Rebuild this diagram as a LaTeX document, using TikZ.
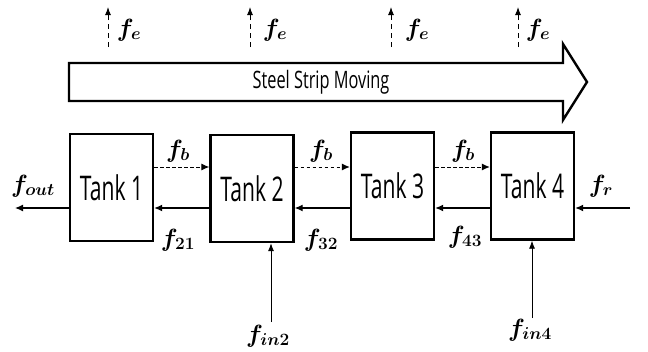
\documentclass[tikz,border=0pt]{standalone}
\usepackage{fontspec}
\usetikzlibrary{arrows.meta}
\newfontfamily\tankfont[FakeStretch=0.62]{Open Sans}
\newfontfamily\stripfont[FakeStretch=0.68]{Open Sans}
\begin{document}
\begin{tikzpicture}[x=1pt,y=-1pt,
  tank/.style={draw,line width=2.4pt,minimum width=83pt,minimum height=107pt,inner sep=0pt,font=\tankfont\fontsize{34}{40}\selectfont},
  flow/.style={line width=1.2pt,-{Latex[length=8pt,width=7pt]}},
  dflow/.style={line width=1pt,dash pattern=on 3.5pt off 2.5pt,-{Latex[length=8pt,width=7pt]}},
  eflow/.style={line width=1pt,dash pattern=on 5pt off 4pt,-{Latex[length=8pt,width=6pt]}},
  inflow/.style={line width=0.8pt,-{Latex[length=8pt,width=6pt]}},
  lab/.style={inner sep=0pt,font=\fontsize{23}{27}\selectfont\boldmath}]
\useasboundingbox (0,0) rectangle (648,351);
% big arrow
\draw[line width=2.4pt,line join=miter] (69,63) -- (563,63) -- (563,44) -- (587,82) -- (563,120) -- (563,101) -- (69,101) -- cycle;
\node[inner sep=0pt,font=\stripfont\fontsize{24}{28}\selectfont] (strip) at (321,82) {Steel Strip Moving};
% f_e arrows
\foreach \i/\x/\lx in {1/108/129,2/250/275,3/391/417,4/518/538}{
  \coordinate (eb\i) at (\x,47);
  \coordinate (et\i) at (\x,7);
  \draw[eflow] (eb\i) -- (et\i);
  \node[lab] (fe\i) at (\lx,30) {$f_e$};
}
% tanks
\node[tank] (t1) at (111.5,187.5) {Tank 1};
\node[tank] (t2) at (252,188.5) {Tank 2};
\node[tank] (t3) at (392.5,186) {Tank 3};
\node[tank] (t4) at (532.5,186) {Tank 4};
% dashed f_b
\draw[dflow] (t1.east |- 0,167) -- (t2.west |- 0,167);
\draw[dflow] (t2.east |- 0,167) -- (t3.west |- 0,167);
\draw[dflow] (t3.east |- 0,167) -- (t4.west |- 0,167);
\node[lab] (fb1) at (178,151) {$f_b$};
\node[lab] (fb2) at (321,151) {$f_b$};
\node[lab] (fb3) at (463,151) {$f_b$};
% backward flows
\draw[flow] (t2.west |- 0,208) -- (t1.east |- 0,208);
\draw[flow] (t3.west |- 0,208) -- (t2.east |- 0,208);
\draw[flow] (t4.west |- 0,208) -- (t3.east |- 0,208);
\node[lab] (f21) at (178,240) {$f_{21}$};
\node[lab] (f32) at (321,240) {$f_{32}$};
\node[lab] (f43) at (465,237) {$f_{43}$};
% outflow and return
\coordinate (outend) at (15,208);
\draw[flow] (t1.west |- 0,208) -- (outend);
\node[lab] (fout) at (33,186) {$f_{out}$};
\coordinate (rstart) at (630,208);
\draw[flow] (rstart) -- (t4.east |- 0,208);
\node[lab] (fr) at (601,186) {$f_r$};
% inflows
\coordinate (in2) at (271,322);
\draw[inflow] (in2) -- (in2 |- t2.south);
\node[lab] (fin2) at (268,336) {$f_{in2}$};
\coordinate (in4) at (532,318);
\draw[inflow] (in4) -- (in4 |- t4.south);
\node[lab] (fin4) at (530,330) {$f_{in4}$};
\end{tikzpicture}
\end{document}
